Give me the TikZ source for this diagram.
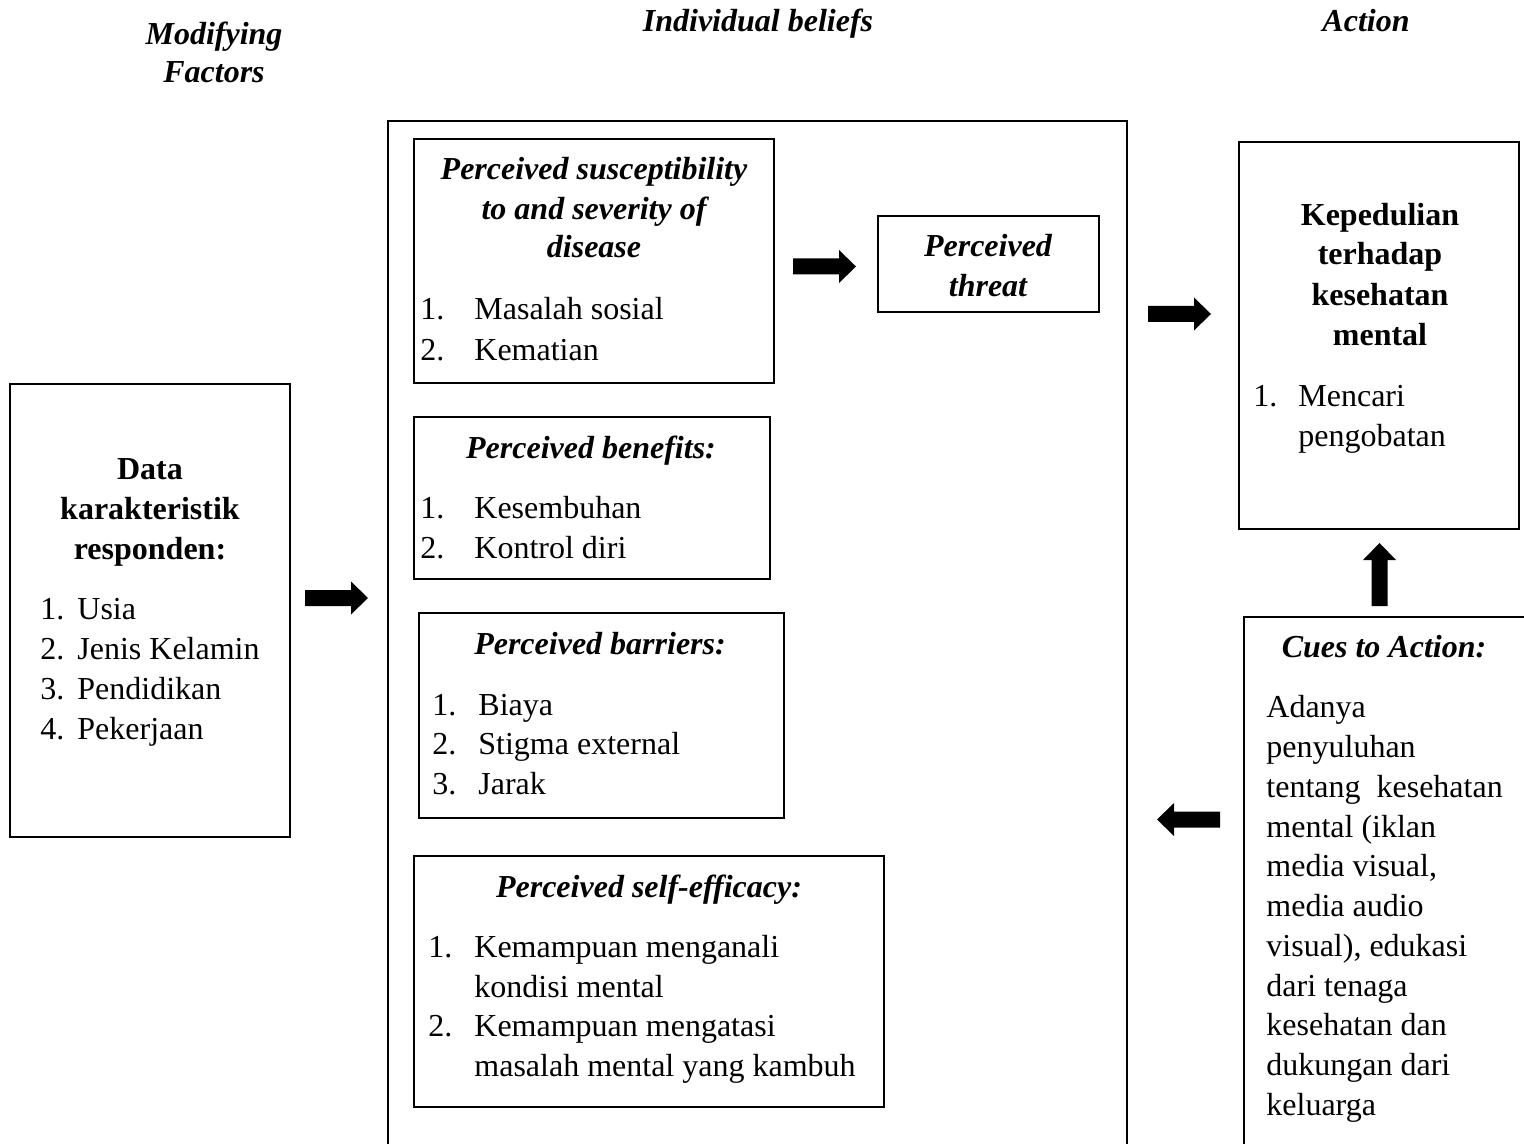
\documentclass[tikz,border=0pt]{standalone}
\usepackage{fontspec}
\setmainfont{Liberation Serif}
\usetikzlibrary{fit}
\tikzset{
  boxline/.style={draw=black, line width=1pt},
  box/.style={boxline, inner sep=0pt, fill=none},
  base/.style={inner sep=0pt, font=\fontsize{16}{20}\selectfont},
  lt/.style={base, anchor=base west},
  ct/.style={base, anchor=base},
  bi/.style={font=\fontsize{16}{20}\selectfont\bfseries\itshape},
  bo/.style={font=\fontsize{16}{20}\selectfont\bfseries},
  blockarrow/.pic={\fill[black] (0,-8) -- (46,-8) -- (46,-16.5) -- (63,0) -- (46,16.5) -- (46,8) -- (0,8) -- cycle;}
}
\begin{document}
\begin{tikzpicture}[x=0.5pt,y=-0.5pt]
\useasboundingbox (0,0) rectangle (1524,1144);
\clip (0,0) rectangle (1524,1144);

% headers
\node[ct,bi] (hmod1) at (214,45) {Modifying};
\node[ct,bi] (hmod2) at (214,83) {Factors};
\node[ct,bi] (hind) at (758,32) {Individual beliefs};
\node[ct,bi] (hact) at (1366,32) {Action};

% left box
\coordinate (la) at (10,384); \coordinate (lb) at (290,837);
\node[box, fit=(la)(lb)] (leftbox) {};
\node[ct,bo] (d1) at (150,479) {Data};
\node[ct,bo] (d2) at (150,519) {karakteristik};
\node[ct,bo] (d3) at (150,559) {responden:};
\node[lt] (dn1) at (40,619) {1.}; \node[lt] (dt1) at (77,619) {Usia};
\node[lt] (dn2) at (40,659) {2.}; \node[lt] (dt2) at (77,659) {Jenis Kelamin};
\node[lt] (dn3) at (40,699) {3.}; \node[lt] (dt3) at (77,699) {Pendidikan};
\node[lt] (dn4) at (40,739) {4.}; \node[lt] (dt4) at (77,739) {Pekerjaan};

% big box (open bottom)
\draw[boxline] (388,1160) -- (388,121) -- (1127,121) -- (1127,1160);

% susceptibility
\coordinate (sa) at (414,139); \coordinate (sb) at (774,383);
\node[box, fit=(sa)(sb)] (susbox) {};
\node[ct,bi] (s1) at (594,180) {Perceived susceptibility};
\node[ct,bi] (s2) at (594,220) {to and severity of};
\node[ct,bi] (s3) at (594,258) {disease};
\node[lt] (sn1) at (420,320) {1.}; \node[lt] (st1) at (474,320) {Masalah sosial};
\node[lt] (sn2) at (420,360) {2.}; \node[lt] (st2) at (474,360) {Kematian};

% threat
\coordinate (ta) at (878,216); \coordinate (tb) at (1099,312);
\node[box, fit=(ta)(tb)] (thrbox) {};
\node[ct,bi] (t1) at (988,257) {Perceived};
\node[ct,bi] (t2) at (988,297) {threat};

% benefits
\coordinate (ba) at (414,417); \coordinate (bb) at (770,579);
\node[box, fit=(ba)(bb)] (benbox) {};
\node[ct,bi] (b1) at (591,458) {Perceived benefits:};
\node[lt] (bn1) at (420,518) {1.}; \node[lt] (bt1) at (474,518) {Kesembuhan};
\node[lt] (bn2) at (420,558) {2.}; \node[lt] (bt2) at (474,558) {Kontrol diri};

% barriers
\coordinate (ra) at (419,613); \coordinate (rb) at (784,818);
\node[box, fit=(ra)(rb)] (barbox) {};
\node[ct,bi] (r1) at (600,654) {Perceived barriers:};
\node[lt] (rn1) at (432,715) {1.}; \node[lt] (rt1) at (478,715) {Biaya};
\node[lt] (rn2) at (432,754) {2.}; \node[lt] (rt2) at (478,754) {Stigma external};
\node[lt] (rn3) at (432,794) {3.}; \node[lt] (rt3) at (478,794) {Jarak};

% self-efficacy
\coordinate (ea) at (414,856); \coordinate (eb) at (884,1107);
\node[box, fit=(ea)(eb)] (effbox) {};
\node[ct,bi] (e1) at (649,897) {Perceived self-efficacy:};
\node[lt] (en1) at (428,957) {1.}; \node[lt] (et1) at (474,957) {Kemampuan menganali};
\node[lt] (et1b) at (474,997) {kondisi mental};
\node[lt] (en2) at (428,1036) {2.}; \node[lt] (et2) at (474,1036) {Kemampuan mengatasi};
\node[lt] (et2b) at (474,1076) {masalah mental yang kambuh};

% kepedulian
\coordinate (ka) at (1239,142); \coordinate (kb) at (1519,529);
\node[box, fit=(ka)(kb)] (kepbox) {};
\node[ct,bo] (k1) at (1380,226) {Kepedulian};
\node[ct,bo] (k2) at (1380,265) {terhadap};
\node[ct,bo] (k3) at (1380,306) {kesehatan};
\node[ct,bo] (k4) at (1380,345) {mental};
\node[lt] (kn1) at (1253,406) {1.}; \node[lt] (kt1) at (1298,406) {Mencari};
\node[lt] (kt1b) at (1298,446) {pengobatan};

% cues (open right and bottom)
\draw[boxline] (1244,1160) -- (1244,617) -- (1540,617);
\node[ct,bi] (c0) at (1384,657) {Cues to Action:};
\node[lt] (c1) at (1266,717) {Adanya};
\node[lt] (c2) at (1266,757) {penyuluhan};
\node[lt] (c3) at (1266,797) {tentang\ \ kesehatan};
\node[lt] (c4) at (1266,837) {mental (iklan};
\node[lt] (c5) at (1266,876) {media visual,};
\node[lt] (c6) at (1266,916) {media audio};
\node[lt] (c7) at (1266,956) {visual), edukasi};
\node[lt] (c8) at (1266,996) {dari tenaga};
\node[lt] (c9) at (1266,1035) {kesehatan dan};
\node[lt] (c10) at (1266,1075) {dukungan dari};
\node[lt] (c11) at (1266,1115) {keluarga};

% block arrows
\pic (arr1) at (305,598) {blockarrow};
\pic (arr2) at (793,266.5) {blockarrow};
\pic (arr3) at (1148,314) {blockarrow};
\pic[rotate=180] (arr4) at (1220,819.5) {blockarrow};
\pic[rotate=90] (arr5) at (1379.5,606) {blockarrow};
\end{tikzpicture}
\end{document}
